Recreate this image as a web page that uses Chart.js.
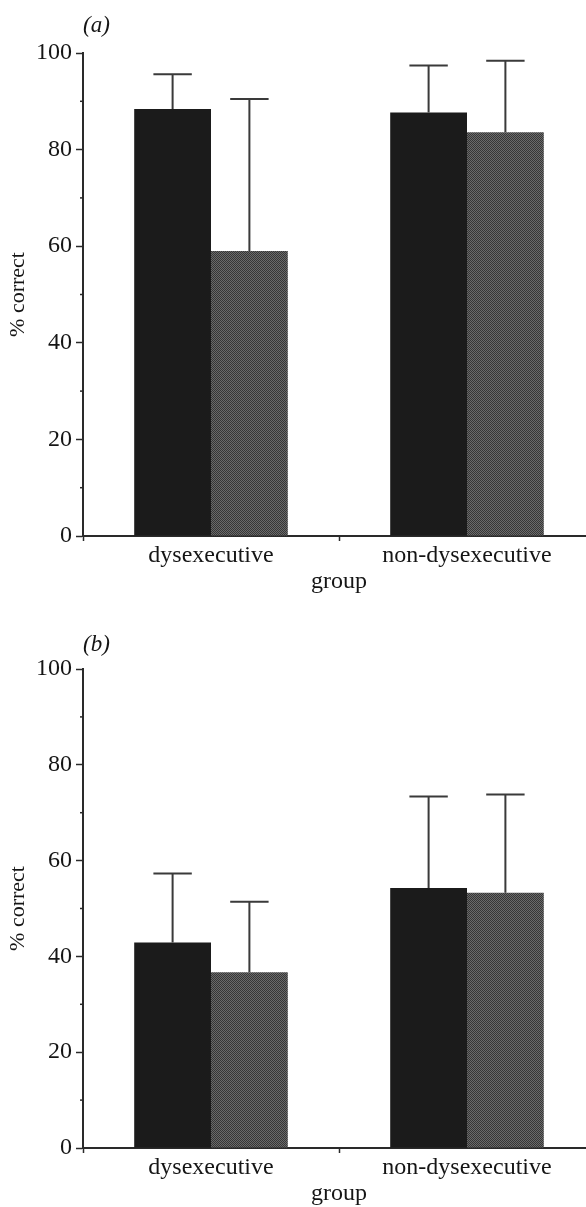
<!DOCTYPE html>
<html><head><meta charset="utf-8">
<script src="https://cdn.jsdelivr.net/npm/chart.js@4"></script>
<style>
html,body{margin:0;padding:0;background:#fff;overflow:hidden;}
#wrap{position:relative;width:586px;height:1207px;overflow:hidden;background:#fff;}
canvas{position:absolute;left:0;display:block;}
#ca{top:0}
#cb{top:600px}
</style></head><body>
<div id="wrap"><canvas id="ca" width="612" height="600"></canvas><canvas id="cb" width="612" height="612"></canvas></div>
<script>
// ---- data ----
const categories = ['dysexecutive', 'non-dysexecutive'];
const yMin = 0, yMax = 100, yStep = 20;
const minorTicks = [10, 30, 50, 70, 90];
// panel (a)
const aMeans1 = [88.4, 87.7];
const aErr1   = [7.2, 9.7];
const aMeans2 = [59.0, 83.6];
const aErr2   = [31.5, 14.8];
// panel (b)
const bMeans1 = [42.9, 54.3];
const bErr1   = [14.4, 19.1];
const bMeans2 = [36.7, 53.3];
const bErr2   = [14.7, 20.5];

const FONT = '"Liberation Serif", "DejaVu Serif", serif';
const INK = '#151515';
const AXIS = '#2a2a2a';

function grayPattern() {
  const c = document.createElement('canvas');
  c.width = 2; c.height = 2;
  const g = c.getContext('2d');
  g.fillStyle = '#6a6a6a'; g.fillRect(0, 0, 2, 2);
  g.fillStyle = '#363636'; g.fillRect(0, 0, 1, 1); g.fillRect(1, 1, 1, 1);
  return g.createPattern(c, 'repeat');
}

const errorBars = {
  id: 'errorBars',
  afterDatasetsDraw(chart) {
    const ctx = chart.ctx, y = chart.scales.y;
    ctx.save();
    ctx.strokeStyle = '#3a3a3a';
    ctx.lineWidth = 2;
    chart.data.datasets.forEach((ds, i) => {
      const meta = chart.getDatasetMeta(i);
      meta.data.forEach((bar, j) => {
        const base = y.getPixelForValue(ds.data[j]);
        const top = y.getPixelForValue(ds.data[j] + ds.errors[j]);
        const half = bar.width / 4;
        ctx.beginPath();
        ctx.moveTo(bar.x, base); ctx.lineTo(bar.x, top);
        ctx.moveTo(bar.x - half, top); ctx.lineTo(bar.x + half, top);
        ctx.stroke();
      });
    });
    ctx.restore();
  }
};

const minorTickPlugin = {
  id: 'minorTicks',
  afterDraw(chart) {
    const ctx = chart.ctx, y = chart.scales.y, left = chart.chartArea.left;
    ctx.save();
    ctx.strokeStyle = AXIS; ctx.lineWidth = 1.5;
    minorTicks.forEach(v => {
      const p = y.getPixelForValue(v);
      ctx.beginPath(); ctx.moveTo(left - 3, p); ctx.lineTo(left, p); ctx.stroke();
    });
    ctx.restore();
  }
};

const panelLabel = {
  id: 'panelLabel',
  afterDraw(chart, args, opts) {
    const ctx = chart.ctx;
    ctx.save();
    ctx.font = 'italic 23px ' + FONT;
    ctx.fillStyle = INK;
    ctx.textAlign = 'left';
    ctx.textBaseline = 'middle';
    ctx.fillText(opts.text, chart.chartArea.left, chart.chartArea.top - opts.dy);
    ctx.restore();
  }
};

function makeChart(id, m1, e1, m2, e2, label, padTop, labelDy) {
  return new Chart(document.getElementById(id), {
    type: 'bar',
    data: {
      labels: categories,
      datasets: [
        { data: m1, errors: e1, backgroundColor: '#1b1b1b', borderWidth: 0,
          categoryPercentage: 0.6, barPercentage: 1.0 },
        { data: m2, errors: e2, backgroundColor: grayPattern(), borderWidth: 0,
          categoryPercentage: 0.6, barPercentage: 1.0 }
      ]
    },
    options: {
      responsive: false,
      animation: false,
      devicePixelRatio: 1,
      layout: { padding: { top: padTop, left: 0, right: 17, bottom: 0 } },
      plugins: {
        legend: { display: false },
        tooltip: { enabled: false },
        panelLabel: { text: label, dy: labelDy }
      },
      scales: {
        x: {
          grid: { display: true, drawOnChartArea: false, drawTicks: true, tickLength: 5,
                  tickColor: AXIS, tickWidth: 1.5, offset: true },
          border: { display: true, color: AXIS, width: 2 },
          ticks: { color: INK, font: { family: FONT, size: 24 }, padding: 0,
                   maxRotation: 0, autoSkip: false },
          title: { display: true, text: 'group', color: INK,
                   font: { family: FONT, size: 24 }, padding: { top: 0, bottom: 4 } },
          afterFit(s) { s.height = 64; }
        },
        y: {
          min: yMin, max: yMax,
          grid: { display: true, drawOnChartArea: false, drawTicks: true, tickLength: 7,
                  tickColor: AXIS, tickWidth: 1.5 },
          border: { display: true, color: AXIS, width: 2 },
          ticks: { stepSize: yStep, color: INK, font: { family: FONT, size: 24 }, padding: 4 },
          title: { display: true, text: '% correct', color: INK,
                   font: { family: FONT, size: 22 }, padding: { top: 5, bottom: 0 } },
          afterFit(s) { s.width = 83; }
        }
      }
    },
    plugins: [errorBars, minorTickPlugin, panelLabel]
  });
}

makeChart('ca', aMeans1, aErr1, aMeans2, aErr2, '(a)', 53, 27);
makeChart('cb', bMeans1, bErr1, bMeans2, bErr2, '(b)', 69, 24);
</script>
</body></html>
